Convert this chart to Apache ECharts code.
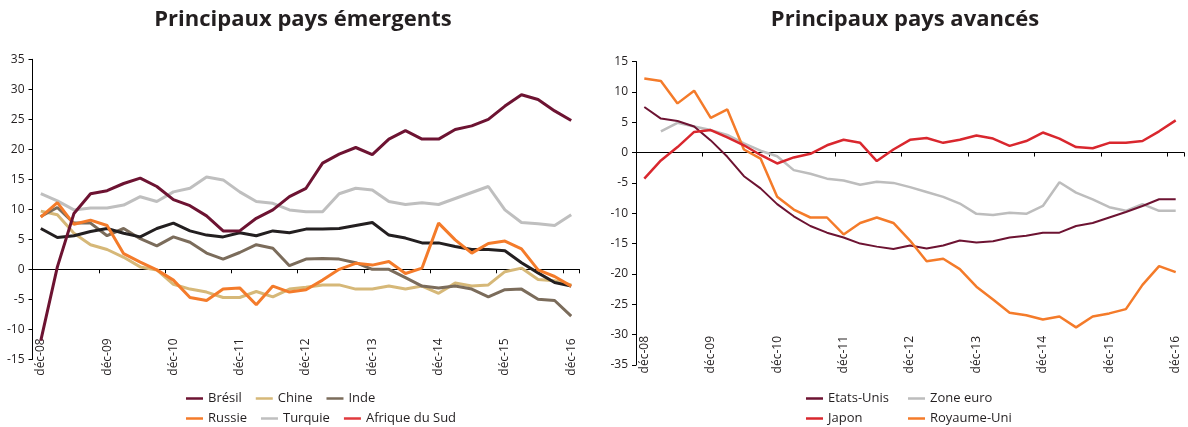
<!DOCTYPE html>
<html>
<head>
<meta charset="utf-8">
<script src="https://cdn.jsdelivr.net/npm/echarts@6/dist/echarts.min.js"></script>
<style>
  html, body { margin: 0; padding: 0; background: #fff; }
  #main { width: 1188px; height: 427px; }
</style>
</head>
<body>
<div id="main"></div>
<script>
// trimestres de déc-08 à déc-16
var mois = ['mars', 'juin', 'sept', 'déc'];
var categories = ['déc-08'];
for (var a = 9; a <= 16; a++) {
  for (var m = 0; m < 4; m++) {
    categories.push(mois[m] + '-' + (a < 10 ? '0' + a : a));
  }
}

// pays émergents
var bresil = [-11.9, 0.4, 9.3, 12.6, 13.1, 14.3, 15.2, 13.8, 11.6, 10.6, 8.9, 6.4, 6.4, 8.5, 9.9, 12.1,
  13.5, 17.7, 19.2, 20.3, 19.1, 21.7, 23.1, 21.7, 21.7, 23.3, 23.9, 25.0, 27.2, 29.1, 28.3, 26.4, 24.8];
var chine = [9.7, 9.1, 6.0, 4.1, 3.3, 2.0, 0.4, -0.1, -2.5, -3.3, -3.8, -4.7, -4.7, -3.7, -4.6, -3.3,
  -3.0, -2.6, -2.6, -3.3, -3.3, -2.8, -3.3, -2.8, -4.0, -2.3, -2.8, -2.6, -0.4, 0.2, -1.7, -1.9, -2.6];
var inde = [8.8, 10.3, 7.7, 7.7, 5.6, 6.8, 5.1, 3.9, 5.4, 4.5, 2.7, 1.7, 2.8, 4.1, 3.5, 0.6,
  1.7, 1.8, 1.7, 1.1, 0.0, 0.0, -1.4, -2.8, -3.1, -2.8, -3.3, -4.6, -3.4, -3.3, -5.0, -5.2, -7.8];
var russie = [8.7, 11.1, 7.5, 8.2, 7.3, 2.6, 1.2, -0.1, -1.8, -4.7, -5.2, -3.3, -3.1, -5.9, -2.8, -3.8,
  -3.4, -1.8, 0.0, 1.0, 0.7, 1.3, -0.7, 0.2, 7.7, 4.9, 2.7, 4.3, 4.7, 3.4, -0.1, -1.2, -2.8];
var turquie = [12.6, 11.4, 9.9, 10.2, 10.2, 10.7, 12.1, 11.3, 12.9, 13.5, 15.4, 14.9, 12.9, 11.3, 11.0, 9.9,
  9.6, 9.6, 12.6, 13.5, 13.2, 11.3, 10.8, 11.1, 10.8, 11.8, 12.8, 13.8, 9.9, 7.8, 7.6, 7.3, 9.1];
var afriqueSud = [6.8, 5.3, 5.6, 6.3, 6.8, 6.0, 5.4, 6.8, 7.7, 6.4, 5.7, 5.4, 6.1, 5.6, 6.4, 6.1,
  6.7, 6.7, 6.8, 7.3, 7.8, 5.7, 5.2, 4.4, 4.4, 3.8, 3.3, 3.3, 3.1, 1.1, -0.6, -2.2, -2.8];

// pays avancés
var etatsUnis = [7.5, 5.6, 5.2, 4.3, 2.0, -0.7, -3.9, -5.9, -8.5, -10.5, -12.1, -13.2, -14.0, -15.0, -15.5, -15.9,
  -15.3, -15.8, -15.3, -14.5, -14.8, -14.6, -14.0, -13.7, -13.2, -13.2, -12.1, -11.6, -10.7, -9.8, -8.8, -7.7, -7.7];
var zoneEuro = ['-', 3.5, 4.9, 4.3, 3.7, 2.9, 1.5, 0.3, -0.6, -2.9, -3.5, -4.3, -4.6, -5.3, -4.8, -5.0,
  -5.7, -6.5, -7.3, -8.4, -10.1, -10.3, -9.9, -10.1, -8.8, -4.9, -6.6, -7.7, -9.0, -9.6, -8.5, -9.6, -9.6];
var japon = [-4.3, -1.3, 0.9, 3.4, 3.7, 2.5, 1.2, -0.4, -1.8, -0.8, -0.2, 1.2, 2.1, 1.6, -1.4, 0.5,
  2.1, 2.4, 1.6, 2.1, 2.8, 2.3, 1.1, 1.9, 3.3, 2.3, 0.9, 0.7, 1.6, 1.6, 1.9, 3.5, 5.3];
var royaumeUni = [12.2, 11.8, 8.1, 10.2, 5.7, 7.1, 0.5, -1.0, -7.3, -9.4, -10.7, -10.7, -13.5, -11.6, -10.7, -11.6,
  -14.5, -17.9, -17.5, -19.2, -22.1, -24.2, -26.4, -26.8, -27.5, -27.0, -28.8, -27.0, -26.5, -25.8, -21.8, -18.7, -19.7];

var police = "'Open Sans', 'Noto Sans', sans-serif";
var gris = '#231f20';

function axeLabels(grid, marge) {
  return {
    type: 'category', gridIndex: grid, data: categories, position: 'bottom',
    axisLine: { show: false, onZero: false },
    axisTick: { show: false },
    axisLabel: { interval: 3, rotate: 90, margin: marge, fontSize: 12, color: gris, fontFamily: police }
  };
}
function axeZero(grid) {
  return {
    type: 'category', gridIndex: grid, data: categories, position: 'bottom',
    axisLine: { show: true, onZero: true, lineStyle: { color: '#000', width: 1 } },
    axisTick: { show: true, length: 4, lineStyle: { color: '#000' } },
    axisLabel: { show: false }
  };
}
function axeY(grid, min, max) {
  return {
    type: 'value', gridIndex: grid, min: min, max: max, interval: 5,
    splitLine: { show: false },
    axisLine: { show: true, lineStyle: { color: '#000', width: 1 } },
    axisTick: { show: true, length: 4, lineStyle: { color: '#000' } },
    axisLabel: { fontSize: 12, color: gris, margin: 8, fontFamily: police }
  };
}
function courbe(nom, data, grid, couleur, largeur, couleurLegende) {
  return {
    name: nom, type: 'line', data: data,
    xAxisIndex: grid * 2, yAxisIndex: grid,
    symbol: 'none', smooth: false, animation: false,
    itemStyle: { color: couleurLegende || couleur },
    lineStyle: { color: couleur, width: largeur }
  };
}
function legende(noms, gauche, haut) {
  return {
    data: noms, left: gauche, top: haut,
    icon: 'rect', itemWidth: 17, itemHeight: 2.5, itemGap: 14,
    selectedMode: false,
    textStyle: { fontSize: 13, color: gris, fontFamily: police }
  };
}

var myChart = echarts.init(document.getElementById('main'));
var option = {
  backgroundColor: '#fff',
  animation: false,
  title: [
    { text: 'Principaux pays émergents', left: 298, top: 4, textAlign: 'center',
      textStyle: { fontSize: 22, fontWeight: 'bold', color: gris, fontFamily: police } },
    { text: 'Principaux pays avancés', left: 900, top: 4, textAlign: 'center',
      textStyle: { fontSize: 22, fontWeight: 'bold', color: gris, fontFamily: police } }
  ],
  grid: [
    { left: 32.5, top: 59.3, width: 547, height: 300 },
    { left: 636, top: 61.5, width: 548, height: 303.5 }
  ],
  xAxis: [axeLabels(0, -21), axeZero(0), axeLabels(1, -29), axeZero(1)],
  yAxis: [axeY(0, -15, 35), axeY(1, -35, 15)],
  legend: [
    legende(['Brésil', 'Chine', 'Inde'], 181, 387),
    legende(['Russie', 'Turquie', 'Afrique du Sud'], 181, 407),
    legende(['Etats-Unis'], 801, 387),
    legende(['Japon'], 801, 407),
    legende(['Zone euro'], 903, 387),
    legende(['Royaume-Uni'], 903, 407)
  ],
  series: [
    courbe('Turquie', turquie, 0, '#bfbfbf', 3),
    courbe('Chine', chine, 0, '#d6b878', 3),
    courbe('Inde', inde, 0, '#7b6c5b', 3),
    courbe('Afrique du Sud', afriqueSud, 0, '#231f20', 3, '#e03a3e'),
    courbe('Russie', russie, 0, '#f47b2a', 3),
    courbe('Brésil', bresil, 0, '#6d1332', 3),
    courbe('Zone euro', zoneEuro, 1, '#bdbdbd', 2.5),
    courbe('Etats-Unis', etatsUnis, 1, '#6d1332', 2),
    courbe('Royaume-Uni', royaumeUni, 1, '#f47b2a', 2.5),
    courbe('Japon', japon, 1, '#d9272e', 2.5)
  ]
};
window.onresize = myChart.resize;
myChart.setOption(option);
</script>
</body>
</html>
